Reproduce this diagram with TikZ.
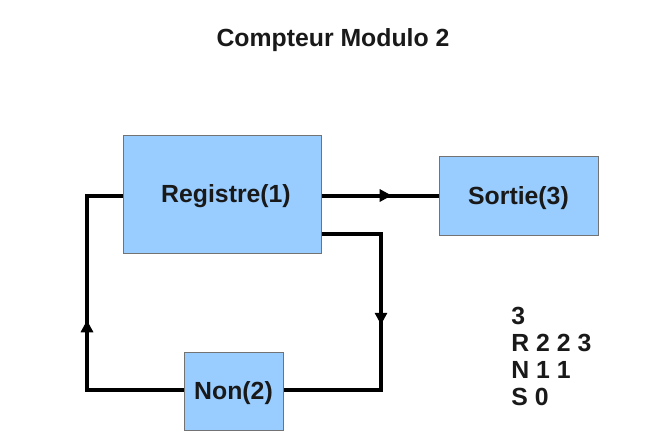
\documentclass[tikz,border=0pt]{standalone}
\usepackage{fontspec}
\setmainfont{Liberation Sans}
\usetikzlibrary{arrows.meta,decorations.markings}
\definecolor{bleu}{HTML}{99CCFF}

\begin{document}
\begin{tikzpicture}[x=0.5pt, y=-0.5pt,
	bloc/.style={draw=black!55, fill=bleu, line width=0.5pt,
		inner sep=0pt, text depth=0pt, font=\fontsize{12.4}{14}\selectfont\bfseries,
		text=black!90},
	fil/.style={line width=2pt, black},
	fleche/.style={postaction={decorate},
		decoration={markings, mark=at position #1 with
			{\arrow{Triangle[length=6pt,width=6pt]}}}},
	texte/.style={inner sep=0pt, font=\fontsize{12.4}{13.5}\selectfont\bfseries,
		text=black!90}]
	
	\useasboundingbox (0,0) rectangle (670,447);
	
	%% titre
	\node[texte] (titre) at (333,40) {Compteur Modulo 2};
	
	%% blocs
	\node[bloc, minimum width=99pt, minimum height=59pt] (reg) at (222,194) {\hspace{4pt}Registre(1)};
	\node[bloc, minimum width=79.5pt, minimum height=39.5pt] (sor) at (518.5,195.5) {Sortie(3)};
	\node[bloc, minimum width=49.5pt, minimum height=39pt] (non) at (233.5,391) {Non(2)};
	
	%% coins de la boucle
	\coordinate (hg) at (87,196);
	\coordinate (bg) at (87,390);
	\coordinate (hd) at (381,234);
	\coordinate (bd) at (381,390);
	
	%% registre -> sortie
	\draw[fil, fleche=0.6] (reg.east |- sor.west) -- (sor.west);
	
	%% registre -> non -> registre
	\draw[fil, fleche=0.48] (reg.east |- hd) -- (hd) -- (bd) -- (non.east |- bd);
	\draw[fil, fleche=0.51] (non.west |- bg) -- (bg) -- (hg) -- (reg.west |- hg);
	
	%% liste
	\node[texte, align=left, anchor=north west] (liste) at (511,307)
		{3\\R 2 2 3\\N 1 1\\S 0};
	
\end{tikzpicture}
\end{document}
